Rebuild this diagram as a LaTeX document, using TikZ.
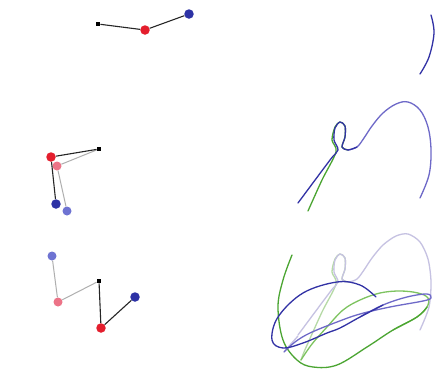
\documentclass[tikz,border=0pt]{standalone}
\definecolor{bobred}{RGB}{228,30,45}
\definecolor{bobblue}{RGB}{45,50,165}
\definecolor{fred}{RGB}{236,115,135}
\definecolor{fblue}{RGB}{110,115,210}
\definecolor{trdark}{RGB}{50,50,165}
\definecolor{trmid}{RGB}{110,105,200}
\definecolor{trpale}{RGB}{198,194,226}
\definecolor{grdark}{RGB}{75,165,50}
\definecolor{grmid}{RGB}{125,195,95}
\definecolor{grpale}{RGB}{182,218,166}
\definecolor{rodpale}{RGB}{175,175,175}
\tikzset{
  pivotpt/.style={fill=black,minimum size=4.5pt,inner sep=0pt},
  redbob/.style={circle,fill=bobred,minimum size=9.5pt,inner sep=0pt},
  bluebob/.style={circle,fill=bobblue,minimum size=9.5pt,inner sep=0pt},
  fredbob/.style={circle,fill=fred,minimum size=9pt,inner sep=0pt},
  fbluebob/.style={circle,fill=fblue,minimum size=9pt,inner sep=0pt},
  rod/.style={draw=black!85,line width=1.1pt},
  fadedrod/.style={draw=rodpale,line width=1pt},
  trail/.style={line width=1.3pt,line cap=round,line join=round},
}
\begin{document}
\begin{tikzpicture}[x=1pt,y=-1pt]
\useasboundingbox (0,0) rectangle (448,381);
\fill[white] (0,0) rectangle (448,381);

% ---------- top row ----------
\node[pivotpt] (p1) at (98,24) {};
\node[redbob] (r1) at (145,30) {};
\node[bluebob] (b1) at (189,14) {};
\draw[rod] (p1) -- (r1);
\draw[rod] (r1) -- (b1);
\draw[trail,trdark] plot[smooth,tension=0.6] coordinates {(431,15) (434,33) (429,57) (420,74)};

% ---------- middle row ----------
\node[fredbob] (fr2) at (57,166) {};
\node[fbluebob] (fb2) at (67,211) {};
\node[pivotpt] (p2) at (99,149) {};
\draw[fadedrod] (p2) -- (fr2);
\draw[fadedrod] (fr2) -- (fb2);
\node[redbob] (r2) at (51,157) {};
\node[bluebob] (b2) at (56,204) {};
\draw[rod] (p2) -- (r2);
\draw[rod] (r2) -- (b2);

\draw[trail,grdark] plot[smooth,tension=0.5] coordinates {(348,150) (342,147) (345,137) (345,126) (340,122) (335,127) (332,140) (336,152) (322,180) (308,211)};
\draw[trail,trmid] plot[smooth,tension=0.6] coordinates {(420,198) (429,175) (431,150) (428,127) (420,110) (408,102) (396,104) (383,113) (372,126) (364,138) (357,147) (348,150)};
\draw[trail,trdark] plot[smooth,tension=0.5] coordinates {(357,147) (348,150) (342,147) (345,137) (345,126) (340,122) (335,128) (334,140) (338,150) (330,160) (298,203)};

% ---------- bottom row ----------
\node[fbluebob] (fb3) at (52,256) {};
\node[fredbob] (fr3) at (58,302) {};
\node[pivotpt] (p3) at (99,281) {};
\draw[fadedrod] (p3) -- (fr3);
\draw[fadedrod] (fr3) -- (fb3);
\node[redbob] (r3) at (101,328) {};
\node[bluebob] (b3) at (135,297) {};
\draw[rod] (p3) -- (r3);
\draw[rod] (r3) -- (b3);

% faded older trails
\begin{scope}[shift={(0,132)}]
\draw[trail,grpale] plot[smooth,tension=0.5] coordinates {(348,150) (342,147) (345,137) (345,126) (340,122) (335,127) (332,140) (336,152) (322,180) (308,211)};
\draw[trail,trpale] plot[smooth,tension=0.5] coordinates {(420,198) (429,175) (431,150) (428,127) (420,110) (408,102) (396,104) (383,113) (372,126) (364,138) (357,147) (348,150) (342,147) (345,137) (345,126) (340,122) (335,128) (334,140) (338,150) (330,160) (298,203)};
\end{scope}
\draw[trail,trpale] plot[smooth,tension=0.6] coordinates {(298,336) (290,345) (284,352)};
\draw[trail,grpale] plot[smooth,tension=0.6] coordinates {(308,343) (304,352) (301,360)};

% new green trail
\draw[trail,grmid] plot[smooth,tension=0.6] coordinates {(301,360) (312,344) (327,327) (343,310) (360,300) (380,293) (400,291) (418,293) (428,298) (427,307) (417,317) (393,330)};
\draw[trail,grdark] plot[smooth,tension=0.6] coordinates {(427,307) (417,317) (393,330) (367,347) (337,365) (313,367) (297,360) (283,340) (278,307) (283,280) (292,255)};

% new blue trail
\draw[trail,trmid] plot[smooth,tension=0.6] coordinates {(284,352) (295,342) (310,333) (337,322) (360,314) (390,307) (423,301) (431,298) (427,294) (407,297) (383,305) (360,317)};
\draw[trail,trdark] plot[smooth,tension=0.6] coordinates {(383,305) (360,317) (340,328) (327,333) (303,343) (283,348) (272,340) (278,317) (303,293) (337,282) (360,285) (376,297)};
\end{tikzpicture}
\end{document}
